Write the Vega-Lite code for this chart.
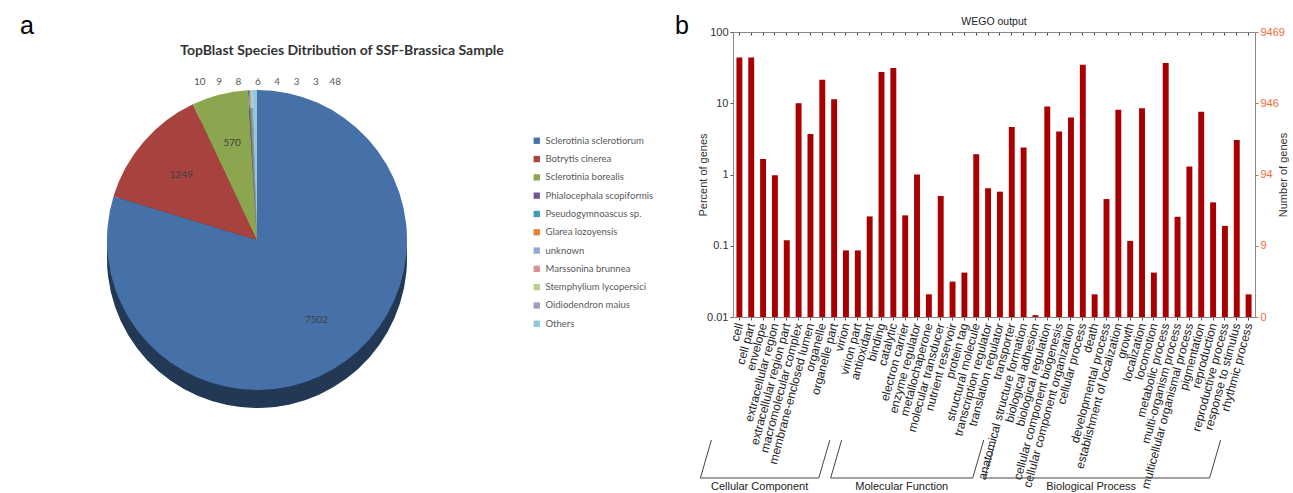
{
  "$schema": "https://vega.github.io/schema/vega-lite/v6.json",
  "padding": {"left": 0, "top": 14, "right": 0, "bottom": 0},
  "bounds": "flush",
  "spacing": 219,
  "datasets": {
    "species": [
      {"sp": "Sclerotinia sclerotiorum", "n": 7502, "ord": 1},
      {"sp": "Botrytis cinerea", "n": 1249, "ord": 2},
      {"sp": "Sclerotinia borealis", "n": 570, "ord": 3},
      {"sp": "Phialocephala scopiformis", "n": 10, "ord": 4},
      {"sp": "Pseudogymnoascus sp.", "n": 9, "ord": 5},
      {"sp": "Glarea lozoyensis", "n": 8, "ord": 6},
      {"sp": "unknown", "n": 6, "ord": 7},
      {"sp": "Marssonina brunnea", "n": 4, "ord": 8},
      {"sp": "Stemphylium lycopersici", "n": 3, "ord": 9},
      {"sp": "Oidiodendron maius", "n": 3, "ord": 10},
      {"sp": "Others", "n": 48, "ord": 11}
    ],
    "go": [
      {"term": "cell", "pct": 44},
      {"term": "cell part", "pct": 44},
      {"term": "envelope", "pct": 1.65},
      {"term": "extracellular region", "pct": 0.98},
      {"term": "extracellular region part", "pct": 0.119},
      {"term": "macromolecular complex", "pct": 10.0},
      {"term": "membrane-enclosed lumen", "pct": 3.7},
      {"term": "organelle", "pct": 21.4},
      {"term": "organelle part", "pct": 11.4},
      {"term": "virion", "pct": 0.086},
      {"term": "virion part", "pct": 0.086},
      {"term": "antioxidant", "pct": 0.258},
      {"term": "binding", "pct": 27.4},
      {"term": "catalytic", "pct": 31.2},
      {"term": "electron carrier", "pct": 0.267},
      {"term": "enzyme regulator", "pct": 1.0},
      {"term": "metallochaperone", "pct": 0.0208},
      {"term": "molecular transducer", "pct": 0.5},
      {"term": "nutrient reservoir", "pct": 0.0314},
      {"term": "protein tag", "pct": 0.042},
      {"term": "structural molecule", "pct": 1.92},
      {"term": "transcription regulator", "pct": 0.64},
      {"term": "translation regulator", "pct": 0.574},
      {"term": "transporter", "pct": 4.66},
      {"term": "anatomical structure formation", "pct": 2.39},
      {"term": "biological adhesion", "pct": 0.0106},
      {"term": "biological regulation", "pct": 9.0},
      {"term": "cellular component biogenesis", "pct": 4.0},
      {"term": "cellular component organization", "pct": 6.3},
      {"term": "cellular process", "pct": 34.7},
      {"term": "death", "pct": 0.0208},
      {"term": "developmental process", "pct": 0.452},
      {"term": "establishment of localization", "pct": 8.1},
      {"term": "growth", "pct": 0.117},
      {"term": "localization", "pct": 8.5},
      {"term": "locomotion", "pct": 0.042},
      {"term": "metabolic process", "pct": 36.6},
      {"term": "multi-organism process", "pct": 0.255},
      {"term": "multicellular organismal process", "pct": 1.29},
      {"term": "pigmentation", "pct": 7.57},
      {"term": "reproduction", "pct": 0.406},
      {"term": "reproductive process", "pct": 0.19},
      {"term": "response to stimulus", "pct": 3.06},
      {"term": "rhythmic process", "pct": 0.0208}
    ],
    "groups": [
      {"grp": "Cellular Component", "first": "cell", "last": "virion part", "mid": "macromolecular complex"},
      {"grp": "Molecular Function", "first": "antioxidant", "last": "transporter", "mid": "molecular transducer"},
      {"grp": "Biological Process", "first": "anatomical structure formation", "last": "rhythmic process", "mid": "growth"}
    ]
  },
  "hconcat": [
    {
      "width": 514,
      "height": 416,
      "title": {
        "text": "TopBlast Species Ditribution of SSF-Brassica Sample",
        "font": "Lato", "fontSize": 14, "fontWeight": "bold", "color": "#333333",
        "anchor": "middle", "dx": 85, "dy": 55, "offset": 0, "baseline": "alphabetic"
      },
      "data": {"name": "species"},
      "layer": [
        {
          "mark": {"type": "arc", "outerRadius": 150, "yOffset": 18},
          "encoding": {
            "theta": {"field": "n", "type": "quantitative", "stack": true},
            "order": {"field": "ord", "type": "quantitative"},
            "color": {
              "field": "sp", "type": "nominal", "sort": null,
              "scale": {
                "domain": ["Sclerotinia sclerotiorum", "Botrytis cinerea", "Sclerotinia borealis", "Phialocephala scopiformis", "Pseudogymnoascus sp.", "Glarea lozoyensis", "unknown", "Marssonina brunnea", "Stemphylium lycopersici", "Oidiodendron maius", "Others"],
                "range": ["#4571A8", "#A7423F", "#8BA64F", "#6E5694", "#3D9CB5", "#E7832F", "#8FA8D4", "#D99090", "#B9D08C", "#A899C4", "#8ECBDB"]
              },
              "legend": {
                "orient": "none", "legendX": 532, "legendY": 104, "title": null,
                "symbolType": "square", "symbolSize": 40, "symbolStrokeWidth": 0,
                "labelFont": "Lato", "labelFontSize": 9.5, "labelColor": "#595959",
                "rowPadding": 7.3, "labelOffset": 4
              }
            }
          }
        },
        {
          "mark": {"type": "arc", "outerRadius": 150, "yOffset": 18, "color": "#000000", "opacity": 0.5},
          "encoding": {
            "theta": {"field": "n", "type": "quantitative", "stack": true},
            "order": {"field": "ord", "type": "quantitative"}
          }
        },
        {
          "mark": {"type": "arc", "outerRadius": 150},
          "encoding": {
            "theta": {"field": "n", "type": "quantitative", "stack": true},
            "order": {"field": "ord", "type": "quantitative"},
            "color": {"field": "sp", "type": "nominal", "sort": null}
          }
        },
        {
          "mark": {"type": "text", "radius": 100, "font": "Lato", "fontSize": 10, "color": "#404040"},
          "encoding": {
            "theta": {"field": "n", "type": "quantitative", "stack": true},
            "order": {"field": "ord", "type": "quantitative"},
            "text": {"condition": {"test": "datum.n > 100", "field": "n", "type": "quantitative"}, "value": ""}
          }
        },
        {
          "transform": [{"filter": "datum.n < 100"}],
          "mark": {"type": "text", "font": "Lato", "fontSize": 10, "color": "#595959", "dy": -158},
          "encoding": {
            "x": {"field": "sp", "type": "nominal", "sort": null, "scale": {"type": "point", "range": [190, 345]}, "axis": null},
            "text": {"field": "n", "type": "quantitative"}
          }
        },
        {
          "data": {"values": [{"l": "a"}]},
          "mark": {"type": "text", "font": "Liberation Sans", "fontSize": 25, "align": "left", "baseline": "alphabetic", "color": "#000000"},
          "encoding": {
            "text": {"field": "l"},
            "x": {"value": 20},
            "y": {"value": 2}
          }
        }
      ]
    },
    {
      "bounds": "flush",
      "spacing": 123,
      "vconcat": [
        {
          "width": 522,
          "height": 285,
          "title": {"text": "WEGO output", "font": "Liberation Sans", "fontSize": 10.5, "fontWeight": "normal", "color": "#222222", "offset": -13},
          "data": {"name": "go"},
          "layer": [
            {
              "mark": {"type": "bar", "color": "#A80000"},
              "encoding": {
                "x": {
                  "field": "term", "type": "nominal", "sort": null,
                  "scale": {"paddingInner": 0.5, "paddingOuter": 0.29},
                  "axis": {
                    "title": null, "labelAngle": -75, "labelFont": "Liberation Sans", "labelFontSize": 12,
                    "labelColor": "#222222", "labelOverlap": false, "labelPadding": 3, "labelLimit": 300,
                    "tickSize": 3, "tickColor": "#555555", "domainColor": "#888888"
                  }
                },
                "y": {
                  "field": "pct", "type": "quantitative",
                  "scale": {"type": "log", "domain": [0.01, 100]},
                  "axis": {
                    "title": "Percent of genes", "values": [0.01, 0.1, 1, 10, 100], "format": "~g",
                    "grid": false, "labelFont": "Liberation Sans", "labelFontSize": 11, "labelColor": "#333333",
                    "labelOverlap": false, "tickSize": 3, "tickColor": "#555555", "domainColor": "#888888",
                    "titleFont": "Liberation Sans", "titleFontSize": 11, "titleFontWeight": "normal", "titleColor": "#333333",
                    "titleX": -25
                  }
                },
                "y2": {"datum": 0.01}
              }
            },
            {
              "mark": {"type": "bar", "opacity": 0},
              "encoding": {
                "x": {
                  "field": "term", "type": "nominal", "sort": null,
                  "axis": {"orient": "top", "labels": false, "title": null, "tickSize": -3, "tickColor": "#444444", "domainColor": "#888888"}
                },
                "y": {
                  "field": "pct", "type": "quantitative",
                  "axis": {
                    "orient": "right", "title": "Number of genes", "values": [0.01, 0.1, 1, 10, 100],
                    "labelExpr": "floor(datum.value * 94.69)", "grid": false,
                    "labelFont": "Liberation Sans", "labelFontSize": 11, "labelColor": "#EE6A3A",
                    "labelOverlap": false, "tickSize": 3, "tickColor": "#EE6A3A", "domainColor": "#888888",
                    "titleFont": "Liberation Sans", "titleFontSize": 11, "titleFontWeight": "normal", "titleColor": "#333333",
                    "titleAngle": -90, "titlePadding": 4
                  }
                },
                "y2": {"datum": 0.01}
              }
            },
            {
              "data": {"values": [{"l": "b"}]},
              "mark": {"type": "text", "font": "Liberation Sans", "fontSize": 25, "align": "left", "baseline": "alphabetic", "color": "#000000"},
              "encoding": {
                "text": {"field": "l"},
                "x": {"value": -58},
                "y": {"value": 2}
              }
            }
          ],
          "resolve": {"axis": {"x": "independent", "y": "independent"}}
        },
        {
          "width": 522,
          "height": 38,
          "data": {"name": "groups"},
          "layer": [
            {
              "mark": {"type": "rule", "color": "#444444", "xOffset": -39, "x2Offset": -39},
              "encoding": {
                "x": {"field": "first", "type": "nominal", "scale": {"domain": ["cell", "cell part", "envelope", "extracellular region", "extracellular region part", "macromolecular complex", "membrane-enclosed lumen", "organelle", "organelle part", "virion", "virion part", "antioxidant", "binding", "catalytic", "electron carrier", "enzyme regulator", "metallochaperone", "molecular transducer", "nutrient reservoir", "protein tag", "structural molecule", "transcription regulator", "translation regulator", "transporter", "anatomical structure formation", "biological adhesion", "biological regulation", "cellular component biogenesis", "cellular component organization", "cellular process", "death", "developmental process", "establishment of localization", "growth", "localization", "locomotion", "metabolic process", "multi-organism process", "multicellular organismal process", "pigmentation", "reproduction", "reproductive process", "response to stimulus", "rhythmic process"], "paddingInner": 0.5, "paddingOuter": 0.29}, "axis": null},
                "x2": {"field": "last"},
                "y": {"datum": 0, "type": "quantitative", "scale": {"domain": [0, 1]}, "axis": null}
              }
            },
            {
              "mark": {"type": "rule", "color": "#444444", "xOffset": -28, "x2Offset": -39},
              "encoding": {
                "x": {"field": "first", "type": "nominal"},
                "x2": {"field": "first"},
                "y": {"datum": 1, "type": "quantitative"},
                "y2": {"datum": 0}
              }
            },
            {
              "mark": {"type": "rule", "color": "#444444", "xOffset": -28, "x2Offset": -39},
              "encoding": {
                "x": {"field": "last", "type": "nominal"},
                "x2": {"field": "last"},
                "y": {"datum": 1, "type": "quantitative"},
                "y2": {"datum": 0}
              }
            },
            {
              "mark": {"type": "text", "baseline": "top", "dy": 3, "xOffset": -39, "font": "Liberation Sans", "fontSize": 11, "color": "#222222"},
              "encoding": {
                "x": {"field": "mid", "type": "nominal"},
                "y": {"datum": 0, "type": "quantitative"},
                "text": {"field": "grp"}
              }
            }
          ]
        }
      ]
    }
  ],
  "config": {
    "view": {"stroke": null},
    "font": "Liberation Sans"
  }
}
